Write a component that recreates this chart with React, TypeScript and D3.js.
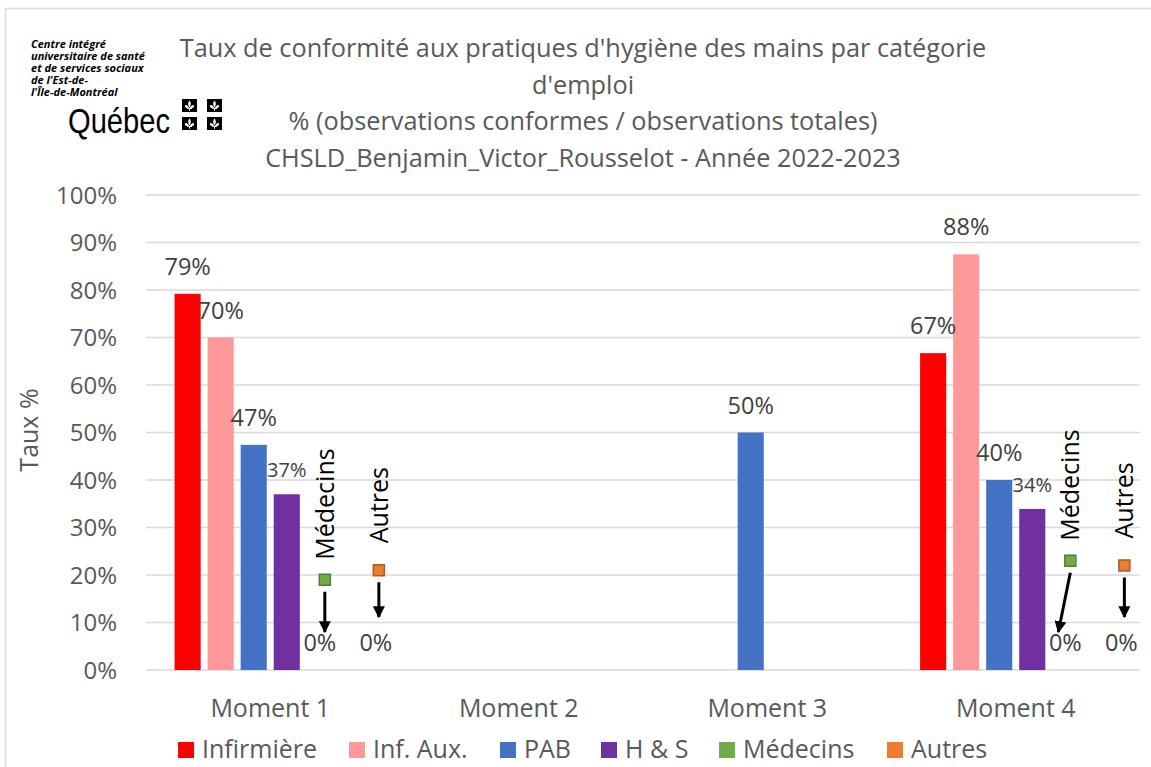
import React from 'react';
import * as d3 from 'd3';

const moments = ['Moment 1', 'Moment 2', 'Moment 3', 'Moment 4'];
const seriesNames = ['Infirmière', 'Inf. Aux.', 'PAB', 'H & S', 'Médecins', 'Autres'];
const seriesColors = ['#ff0000', '#ff9999', '#4472c4', '#7030a0', '#70ad47', '#ed7d31'];

const infirmiere = [0.792, null, null, 0.667];
const infAux = [0.7, null, null, 0.875];
const pab = [0.474, null, 0.5, 0.4];
const hs = [0.37, null, null, 0.339];
const medecins = [0, null, null, 0];
const autres = [0, null, null, 0];

// callout markers (y level in %) for the zero-valued series
const medecinsMarker = [0.19, null, null, 0.23];
const autresMarker = [0.21, null, null, 0.22];

const yTicks = [0, 0.1, 0.2, 0.3, 0.4, 0.5, 0.6, 0.7, 0.8, 0.9, 1];

const titleLines = [
  "Taux de conformité aux pratiques d'hygiène des mains par catégorie",
  "d'emploi",
  '% (observations conformes / observations totales)',
  'CHSLD_Benjamin_Victor_Rousselot - Année 2022-2023',
];
const logoLines = [
  'Centre intégré',
  'universitaire de santé',
  'et de services sociaux',
  "de l'Est-de-",
  "l'Île-de-Montréal",
];

const W = 1151;
const H = 767;
const FONT = '"Open Sans", Lato, sans-serif';

// tiny fleur-de-lis for the Québec flag squares
const fleur =
  'M7.5,1.5 C9.3,3.3 9.3,6 7.5,8.5 C5.7,6 5.7,3.3 7.5,1.5 Z ' +
  'M7,8.5 C5.5,5.5 2.5,5 3,7.5 C3.5,9 5.5,9 6.5,9.5 Z ' +
  'M8,8.5 C9.5,5.5 12.5,5 12,7.5 C11.5,9 9.5,9 8.5,9.5 Z ' +
  'M5,9 L10,9 L10,10 L5,10 Z M7,10 L8,10 L8,11.8 L7,11.8 Z';

const App = () => {
  const allSeries = [infirmiere, infAux, pab, hs, medecins, autres];
  const x0 = d3.scaleBand().domain(moments).range([146, 1140]).paddingInner(0.23).paddingOuter(0.115);
  const x1 = d3.scaleBand().domain(seriesNames).range([0, x0.bandwidth()]).paddingInner(0.21);
  const y = d3.scaleLinear().domain([0, 1]).range([670, 195]);
  const fmt = d3.format('.0%');

  const barCenter = (m: number, s: number) => x0(moments[m])! + x1(seriesNames[s])! + x1.bandwidth() / 2;

  const callouts: any[] = [];
  [medecinsMarker, autresMarker].forEach((arr, k) => {
    const s = 4 + k;
    arr.forEach((lvl, m) => {
      if (lvl == null) return;
      const cx = barCenter(m, s);
      const mx = cx + (k === 0 ? 5 : 26);
      const tilt = k === 0 && m === 3 ? -12 : 0;
      callouts.push({ s, m, lvl, mx, tilt, k });
    });
  });

  const legendX = [178, 349, 500, 601, 719, 887];

  return (
    <svg width={W} height={H} style={{ position: 'absolute', left: 0, top: 0, background: '#fff' }} fontFamily={FONT}>
      <rect x={5.5} y={8.5} width={W + 10} height={H + 10} fill="#fff" stroke="#d9d9d9" strokeWidth={1.5} />

      {/* logo */}
      <g fontFamily='"Open Sans", sans-serif' fontWeight="bold" fontStyle="italic" fontSize={11} fill="#000">
        {logoLines.map((t, i) => (
          <text key={i} x={31} y={48 + i * 11.9}>{t}</text>
        ))}
      </g>
      <text x={68} y={133} fontSize={35} fontFamily='"Liberation Sans", sans-serif' textLength={102} lengthAdjust="spacingAndGlyphs" fill="#000">Québec</text>
      {[[182, 99], [207, 99], [182, 117], [207, 117]].map(([fx, fy], i) => (
        <g key={i} transform={`translate(${fx},${fy})`}>
          <rect width={15} height={13} fill="#000" />
          <path d={fleur} fill="#fff" />
        </g>
      ))}

      {/* title */}
      <g fill="#595959" fontSize={25.3} textAnchor="middle">
        {titleLines.map((t, i) => (
          <text key={i} x={583} y={57 + i * 36.7}>{t}</text>
        ))}
      </g>

      {/* grid + y axis */}
      {yTicks.map((t) => (
        <g key={t}>
          <line x1={146} x2={1140} y1={y(t)} y2={y(t)} stroke="#d9d9d9" strokeWidth={1.5} />
          <text x={117} y={y(t) + 8.5} textAnchor="end" fontSize={24} fill="#595959">{fmt(t)}</text>
        </g>
      ))}
      <text transform={`translate(38,${430}) rotate(-90)`} textAnchor="middle" fontSize={25} fill="#595959">Taux %</text>

      {/* x labels */}
      {moments.map((m) => (
        <text key={m} x={x0(m)! + x0.bandwidth() / 2} y={717} textAnchor="middle" fontSize={25} fill="#595959">{m}</text>
      ))}

      {/* bars */}
      {allSeries.map((vals, s) =>
        vals.map((v, m) =>
          v == null ? null : (
            <rect key={`${s}-${m}`} x={x0(moments[m])! + x1(seriesNames[s])!} y={y(v)} width={x1.bandwidth()} height={y(0) - y(v)} fill={seriesColors[s]} />
          )
        )
      )}

      {/* data labels */}
      {allSeries.map((vals, s) =>
        vals.map((v, m) => {
          if (v == null) return null;
          const lx = barCenter(m, s) + (s === 5 ? 23 : 0);
          const small = s === 3;
          return (
            <text key={`l${s}-${m}`} x={lx} y={y(v) - (small ? 17 : 19)} textAnchor="middle" fontSize={small ? 20 : 23.5} fill="#404040">{fmt(v)}</text>
          );
        })
      )}

      {/* callouts for zero-valued series */}
      <defs>
        <marker id="ah" viewBox="0 0 10 10" refX={9} refY={5} markerWidth={4} markerHeight={4} orient="auto">
          <path d="M0,0 L10,5 L0,10 z" fill="#000" />
        </marker>
      </defs>
      {callouts.map((c, i) => {
        const my = y(c.lvl);
        const tipY = y(0) - 27 - (c.k === 0 ? 11 : 26);
        return (
          <g key={`c${i}`}>
            <rect x={c.mx - 5.5} y={my - 5.5} width={11} height={11} fill={seriesColors[c.s]} stroke={c.k === 0 ? '#507e32' : '#ae5a21'} strokeWidth={1.5} />
            <text transform={`translate(${c.mx + 9},${my - (c.k === 0 ? 20 : 27)}) rotate(-90)`} fontSize={25} fill="#000">{seriesNames[c.s]}</text>
            <line x1={c.mx} y1={my + 12} x2={c.mx + c.tilt} y2={tipY} stroke="#000" strokeWidth={3} markerEnd="url(#ah)" />
          </g>
        );
      })}

      {/* legend */}
      {seriesNames.map((n, i) => (
        <g key={n}>
          <rect x={legendX[i]} y={742} width={16} height={16} fill={seriesColors[i]} />
          <text x={legendX[i] + 24} y={758} fontSize={25} fill="#595959">{n}</text>
        </g>
      ))}
    </svg>
  );
};

export default App;
